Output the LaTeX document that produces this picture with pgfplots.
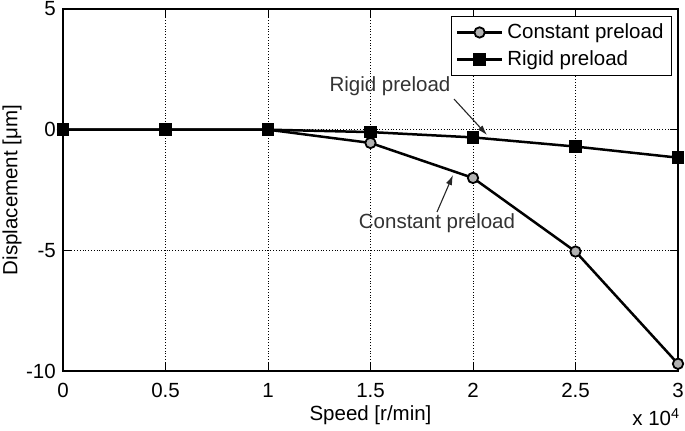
\documentclass[border=0pt]{standalone}
\usepackage{fontspec}
\setmainfont{Liberation Sans}
\usepackage{pgfplots}
\pgfplotsset{compat=1.18}
\usetikzlibrary{arrows.meta}
\begin{document}
\fontsize{10.25}{12.3}\selectfont
\begin{tikzpicture}
\begin{axis}[
  name=ax,
  clip=false,
  scale only axis,
  width=307.5pt, height=181pt,
  xmin=0, xmax=30000, ymin=-10, ymax=5,
  xtick={0,5000,10000,15000,20000,25000,30000},
  xticklabels={0,0.5,1,1.5,2,2.5,3},
  scaled x ticks=false,
  ytick={-10,-5,0,5},
  yticklabels={-10,-5,0,5},
  /pgf/number format/assume math mode=true,
  grid=major,
  major grid style={black, densely dotted, line width=0.45pt},
  axis line style={black, line width=0.55pt},
  tick style={black, line width=0.5pt},
  tick align=inside,
  major tick length=4pt,
  xticklabel style={yshift=-2.5pt, font=\fontsize{10.25}{12.3}\selectfont},
  yticklabel style={font=\fontsize{10.25}{12.3}\selectfont},
  xlabel={Speed [r/min]},
  ylabel={Displacement [μm]},
  xlabel style={at={(axis description cs:0.5,-0.1215)}, anchor=center},
  ylabel style={at={(axis description cs:-0.083,0.5)}, anchor=center, rotate=0},
  label style={font=\fontsize{10.25}{12.3}\selectfont},
  legend style={at={(axis description cs:0.9902,0.9807)}, anchor=north east,
    draw=black, line width=0.5pt, fill=white,
    font=\fontsize{10.25}{12.3}\selectfont,
    inner xsep=2pt, inner ysep=1.5pt, row sep=0.6pt},
  legend cell align=left,
  legend image code/.code={\draw[mark repeat=2,mark phase=2,#1] plot coordinates {(0pt,0pt) (11.25pt,0pt) (22.5pt,0pt)};},
]
\addplot[black, line width=1.25pt, mark=*, mark size=2.6pt, mark options={fill=gray!60, draw=black, line width=0.9pt}]
  coordinates {(0,0) (5000,0) (10000,0) (15000,-0.55) (20000,-2.0) (25000,-5.05) (30000,-9.7)};
\addlegendentry{Constant preload}
\addplot[black, line width=1.25pt, mark=square*, mark size=2.9pt, mark options={fill=black, draw=black, line width=0.5pt}]
  coordinates {(0,0) (5000,0) (10000,0) (15000,-0.1) (20000,-0.32) (25000,-0.70) (30000,-1.16)};
\addlegendentry{Rigid preload}
\node[text=black!80] at (axis cs:15951,1.81) {Rigid preload};
\draw[black!85, line width=0.55pt, -{Latex[length=5pt,width=3.2pt]}] (axis cs:19073,1.27) -- (axis cs:20683,-0.22);
\node[text=black!80] at (axis cs:18244,-3.87) {Constant preload};
\draw[black!85, line width=0.55pt, -{Latex[length=5pt,width=3.2pt]}] (axis cs:18244,-3.41) -- (axis cs:19024,-1.88);
\node[anchor=east, inner sep=0pt] at (axis description cs:1.004,-0.127) {x 10\textsuperscript{4}};
\end{axis}
\pgfresetboundingbox
\path[use as bounding box] ([xshift=-31.5pt,yshift=-29.5pt]ax.south west) rectangle ([xshift=3.5pt,yshift=4.5pt]ax.north east);
\end{tikzpicture}
\end{document}
